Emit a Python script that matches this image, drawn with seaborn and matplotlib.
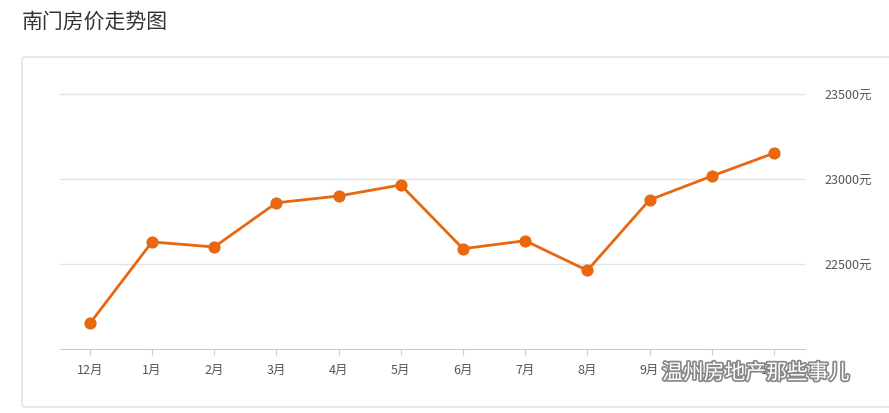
import matplotlib
matplotlib.use("Agg")
import matplotlib.pyplot as plt
import matplotlib.patheffects as pe
import seaborn as sns
import pandas as pd
from matplotlib.patches import FancyBboxPatch

months = ["12月","1月","2月","3月","4月","5月","6月","7月","8月","9月","10月","11月"]
prices = [22150,22630,22600,22860,22900,22965,22590,22637,22462,22877,23017,23152]
yticks = [22500,23000,23500]
ylabels = ["22500元","23000元","23500元"]

sns.set_style("white")
plt.rcParams['font.family'] = ['Noto Sans CJK SC','DejaVu Sans']

fig = plt.figure(figsize=(8.89,4.14), dpi=100)
fig.patch.set_facecolor("white")
box = FancyBboxPatch((22/889, 6/414), 870/889, 350/414, boxstyle="round,pad=0,rounding_size=0.005",
                     transform=fig.transFigure, fc="white", ec="#dddddd", lw=1, zorder=-5)
fig.patches.append(box)
fig.text(22/889, 1-22/414, "南门房价走势图", fontsize=15, color="#333333", va="center", ha="left")

ax = fig.add_axes([60/889, 1-350/414, 745/889, (350-78)/414])
ax.set_zorder(2)
ax.patch.set_alpha(0)
df = pd.DataFrame({"m": range(len(months)), "p": prices})
sns.lineplot(data=df, x="m", y="p", ax=ax, color="#e8670f", lw=2, marker="o",
             markersize=8, markeredgecolor="#e8670f")
ax.set_xlim(-0.48, 11.5)
ax.set_ylim(22000, 23600)
ax.set_xticks(range(len(months)))
ax.set_xticklabels(months, fontsize=9, color="#555555")
ax.yaxis.tick_right()
ax.set_yticks(yticks)
ax.set_yticklabels(ylabels, fontsize=9, color="#555555")
ax.tick_params(axis="y", length=0, pad=14)
ax.tick_params(axis="x", length=4, color="#cccccc", pad=6, bottom=True)
for t in yticks:
    ax.axhline(t, color="#e3e3e3", lw=1, zorder=0)
for s in ["top","left","right"]:
    ax.spines[s].set_visible(False)
ax.spines["bottom"].set_color("#cccccc")
ax.set_xlabel(""); ax.set_ylabel("")
wm = fig.text(662/889, 1-374/414, "温州房地产那些事儿", fontsize=15, color="white", va="center", ha="left",
              zorder=10, path_effects=[pe.withStroke(linewidth=2.5, foreground="#888888")])
fig.savefig("out.png", dpi=100)
